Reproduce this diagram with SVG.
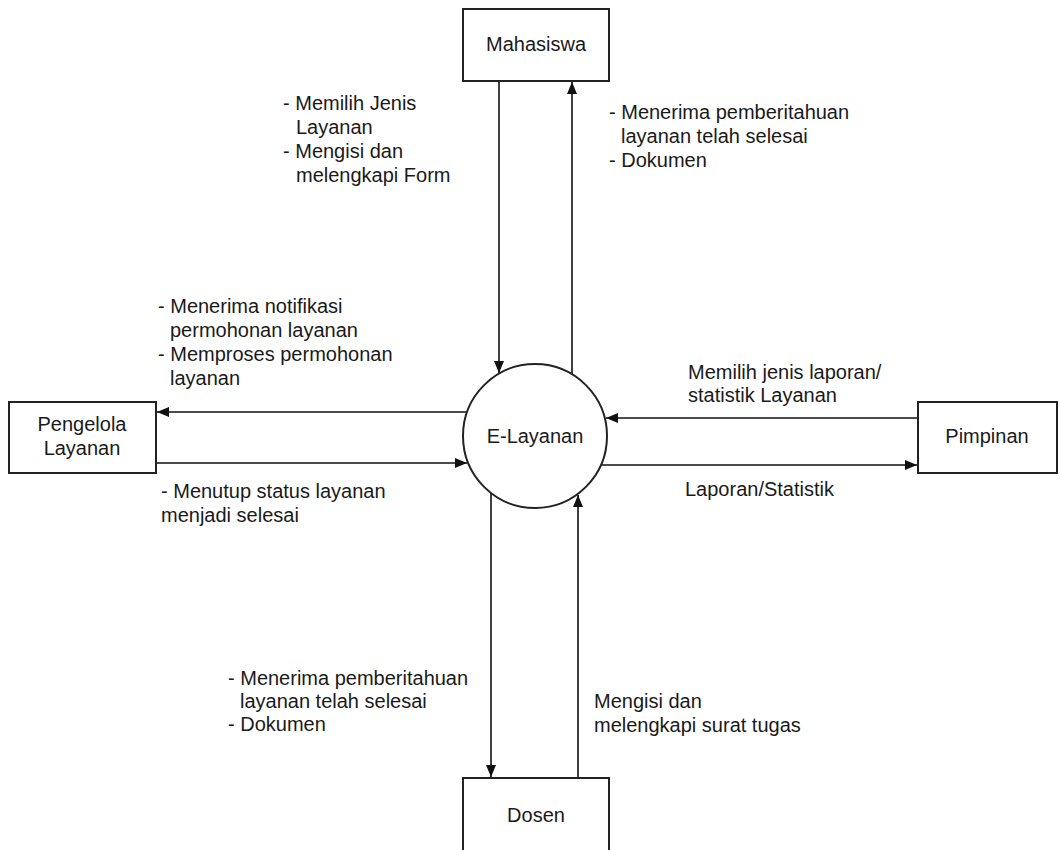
<svg xmlns="http://www.w3.org/2000/svg" width="1060" height="850" viewBox="0 0 1060 850">
<style>
.box{fill:#fff;stroke:#222;stroke-width:2}
.lbl{font-family:"Liberation Sans",Arial,sans-serif;font-size:20px;fill:#1a1a1a}
.c{text-anchor:middle}
.flow{stroke:#111;stroke-width:1.6;fill:none;marker-end:url(#ah)}
</style>
<defs>
<marker id="ah" markerUnits="userSpaceOnUse" markerWidth="12" markerHeight="10" refX="12" refY="5" orient="auto">
<path d="M0,0 L12,5 L0,10 z" fill="#111"/>
</marker>
</defs>
<rect width="1060" height="850" fill="#fff"/>
<g id="connectors">
<line class="flow" x1="499" y1="81" x2="499" y2="373"/>
<line class="flow" x1="572" y1="374" x2="572" y2="82"/>
<line class="flow" x1="467" y1="412" x2="157" y2="412"/>
<line class="flow" x1="156" y1="463" x2="467" y2="463"/>
<line class="flow" x1="918" y1="418" x2="606" y2="418"/>
<line class="flow" x1="601" y1="465" x2="917" y2="465"/>
<line class="flow" x1="491" y1="493" x2="491" y2="777"/>
<line class="flow" x1="578" y1="778" x2="578" y2="495"/>
</g>
<g id="labels">
<text class="lbl"><tspan x="283" y="110">- Memilih Jenis</tspan><tspan x="296" y="134">Layanan</tspan><tspan x="283" y="158">- Mengisi dan</tspan><tspan x="296" y="182">melengkapi Form</tspan></text>
<text class="lbl"><tspan x="609" y="119">- Menerima pemberitahuan</tspan><tspan x="621" y="143">layanan telah selesai</tspan><tspan x="609" y="167">- Dokumen</tspan></text>
<text class="lbl"><tspan x="158" y="313">- Menerima notifikasi</tspan><tspan x="170" y="337">permohonan layanan</tspan><tspan x="158" y="361">- Memproses permohonan</tspan><tspan x="170" y="385">layanan</tspan></text>
<text class="lbl"><tspan x="161" y="498">- Menutup status layanan</tspan><tspan x="161" y="522">menjadi selesai</tspan></text>
<text class="lbl"><tspan x="688" y="379">Memilih jenis laporan/</tspan><tspan x="688" y="402">statistik Layanan</tspan></text>
<text class="lbl" x="685" y="496">Laporan/Statistik</text>
<text class="lbl"><tspan x="228" y="685">- Menerima pemberitahuan</tspan><tspan x="240" y="708">layanan telah selesai</tspan><tspan x="228" y="731">- Dokumen</tspan></text>
<text class="lbl"><tspan x="594" y="708">Mengisi dan</tspan><tspan x="594" y="732">melengkapi surat tugas</tspan></text>
</g>
<g id="mahasiswa">
<rect class="box" x="463" y="9" width="146" height="72"/>
<text class="lbl c" x="536" y="51">Mahasiswa</text>
</g>
<g id="pengelola">
<rect class="box" x="9" y="402" width="147" height="71"/>
<text class="lbl c"><tspan x="82" y="431">Pengelola</tspan><tspan x="82" y="455">Layanan</tspan></text>
</g>
<g id="elayanan">
<circle cx="535" cy="436" r="72" fill="#fff" stroke="#222" stroke-width="2"/>
<text class="lbl c" x="535" y="443">E-Layanan</text>
</g>
<g id="pimpinan">
<rect class="box" x="918" y="402" width="139" height="71"/>
<text class="lbl c" x="987" y="443">Pimpinan</text>
</g>
<g id="dosen">
<rect class="box" x="463" y="778" width="146" height="90"/>
<text class="lbl c" x="536" y="822">Dosen</text>
</g>
</svg>
